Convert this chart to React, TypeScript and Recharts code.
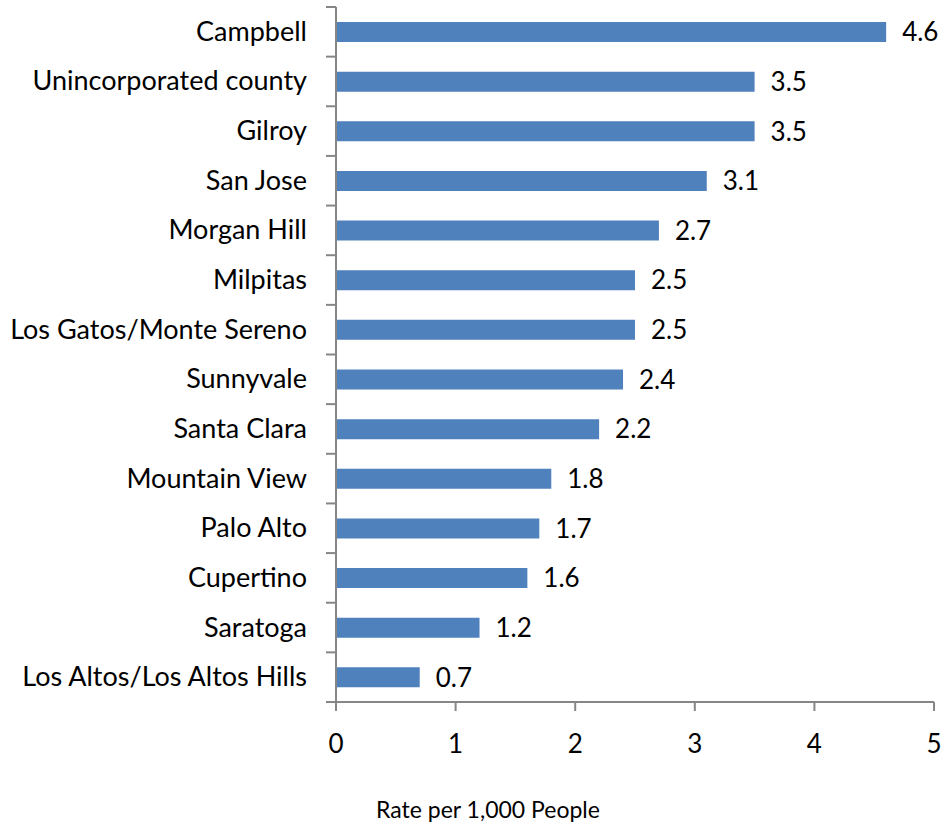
import { BarChart, Bar, XAxis, YAxis, LabelList } from 'recharts'

const cities = [
  'Campbell',
  'Unincorporated county',
  'Gilroy',
  'San Jose',
  'Morgan Hill',
  'Milpitas',
  'Los Gatos/Monte Sereno',
  'Sunnyvale',
  'Santa Clara',
  'Mountain View',
  'Palo Alto',
  'Cupertino',
  'Saratoga',
  'Los Altos/Los Altos Hills',
]
const rates = [4.6, 3.5, 3.5, 3.1, 2.7, 2.5, 2.5, 2.4, 2.2, 1.8, 1.7, 1.6, 1.2, 0.7]
const xTicks = [0, 1, 2, 3, 4, 5]

const data = cities.map((city, i) => ({ city, rate: rates[i] }))

const FONT = 'Lato, "Open Sans", sans-serif'
const AXIS = '#868686'
const TOP = 7
const BOTTOM = 122
const HEIGHT = 824

// tick mark between categories, Excel style
const CityTick = (props: any) => {
  const { x, y, payload, index } = props
  const band = (HEIGHT - TOP - BOTTOM) / cities.length
  const axisX = x + 29
  return (
    <g>
      <line x1={axisX - 10} x2={axisX} y1={y - band / 2} y2={y - band / 2} stroke={AXIS} strokeWidth={2} />
      {index === cities.length - 1 && (
        <line x1={axisX - 10} x2={axisX} y1={y + band / 2} y2={y + band / 2} stroke={AXIS} strokeWidth={2} />
      )}
      <text x={x} y={y} dy={9} textAnchor="end" fill="#000" fontSize={27} fontFamily={FONT}>
        {payload.value}
      </text>
    </g>
  )
}

export default function App() {
  return (
    <div style={{ position: 'absolute', left: 0, top: 0, background: '#fff' }}>
      <BarChart
        width={942}
        height={HEIGHT}
        data={data}
        layout="vertical"
        margin={{ top: TOP, right: 8, bottom: 0, left: 0 }}
        barCategoryGap={0}
      >
        <XAxis
          type="number"
          domain={[0, 5]}
          ticks={xTicks}
          height={BOTTOM}
          axisLine={{ stroke: AXIS, strokeWidth: 2 }}
          tickLine={{ stroke: AXIS, strokeWidth: 2 }}
          tickSize={9}
          tickMargin={24}
          tick={{ fill: '#000', fontSize: 26, fontFamily: FONT }}
          label={{
            value: 'Rate per 1,000 People',
            position: 'insideBottom',
            offset: 6,
            dx: -147,
            fill: '#000',
            fontSize: 23,
            fontFamily: FONT,
          }}
        />
        <YAxis
          type="category"
          dataKey="city"
          width={336}
          axisLine={{ stroke: AXIS, strokeWidth: 2 }}
          tickLine={false}
          tickSize={10}
          tickMargin={19}
          interval={0}
          tick={<CityTick />}
        />
        <Bar dataKey="rate" fill="#4F81BD" barSize={20} isAnimationActive={false}>
          <LabelList dataKey="rate" position="right" offset={16} fill="#000" fontSize={26} fontFamily={FONT} />
        </Bar>
      </BarChart>
    </div>
  )
}
